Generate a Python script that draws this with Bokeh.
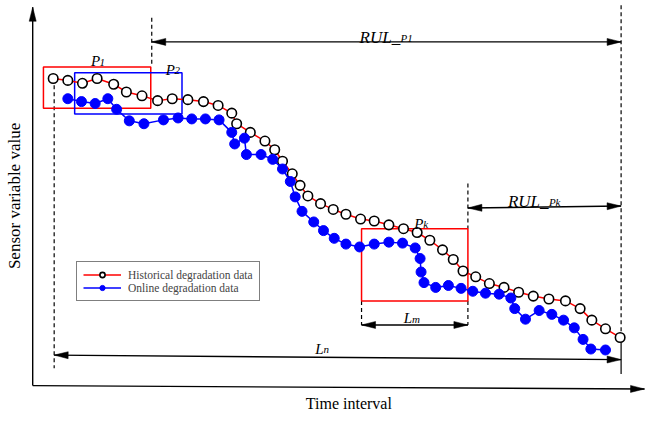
import math
from bokeh.plotting import figure
from bokeh.models import Range1d, Legend, LegendItem, ColumnDataSource
from bokeh.core.properties import value
from bokeh.embed import file_html
from bokeh.resources import INLINE

# ---- data (time index, sensor value) ----
hist_t = [54, 69, 84, 99, 116, 129, 145, 161, 176, 192, 208, 223, 237, 242, 256, 271, 281, 289,
          299, 307, 315, 328, 341, 354, 369, 383, 398, 413, 427, 440, 453, 464, 474, 487, 501,
          516, 531, 546, 562, 579, 594, 606, 620, 635]
hist_v = [349, 347, 344, 349, 343, 335, 331, 326, 328, 327, 325, 321, 313, 302, 293, 284, 275, 263,
          250, 238, 227, 219, 213, 208, 203, 201, 197, 193, 189, 181, 171, 161, 149, 143, 136,
          132, 127, 123, 120, 118, 110, 98, 89, 80]

online_t = [69, 83, 97, 110, 119, 132, 147, 167, 182, 196, 210, 224, 237, 240, 250, 252, 267, 279,
            289, 297, 302, 309, 321, 331, 342, 354, 368, 383, 398, 412, 425, 430, 431, 434, 446,
            459, 472, 484, 497, 511, 523, 527, 538, 552, 565, 577, 588, 597, 605, 620]
online_v = [328, 325, 323, 328, 317, 305, 302, 306, 308, 307, 307, 306, 293, 281, 287, 270, 270, 265,
            255, 242, 226, 211, 200, 191, 183, 177, 174, 177, 179, 178, 173, 162, 148, 137, 132,
            134, 131, 128, 126, 125, 121, 110, 99, 108, 104, 98, 90, 78, 68, 67]

# windows P1, P2, Pk : (t_start, t_end, v_low, v_high)
win_names = ["P1", "P2", "Pk"]
win_left = [44, 76, 370]
win_right = [154, 186, 479]
win_bottom = [318, 312, 118]
win_top = [361, 355, 193]
win_colors = ["#ff0000", "#0000ff", "#ff0000"]

# arrows: (x0, y0, x1, y1, heads)
arrows = [
    (33, 30, 33, 423, "end"),        # y axis
    (33, 30, 660, 26.5, "end"),      # x axis
    (155, 387, 636, 387, "both"),    # RUL_P1
    (479, 214.5, 636, 216.5, "both"),  # RUL_Pk
    (370, 93, 479, 93, "both"),      # Lm
    (55, 61.7, 636, 57, "both"),     # Ln
]

# dashed guides: (x, y0, y1)
dashed = [(55, 342, 48), (155, 412, 363), (636, 425, 86), (479, 240, 193),
          (479, 118, 93), (370, 118, 93)]
solid_guides = [(636, 75, 42)]

W, H = 645, 414
XR, YR = (0, 661), (0, 430)
p = figure(width=W, height=H, x_range=Range1d(*XR), y_range=Range1d(*YR),
           output_backend="svg", toolbar_location=None, min_border=0,
           x_axis_location=None, y_axis_location=None)
p.grid.visible = False
p.outline_line_color = None
p.background_fill_color = "white"
p.border_fill_color = "white"
SX = W / (XR[1] - XR[0])
SY = H / (YR[1] - YR[0])

# guides
p.segment(x0=[d[0] for d in dashed], y0=[d[1] for d in dashed],
          x1=[d[0] for d in dashed], y1=[d[2] for d in dashed],
          line_color="black", line_width=1.2, line_dash="4 3")
p.segment(x0=[d[0] for d in solid_guides], y0=[d[1] for d in solid_guides],
          x1=[d[0] for d in solid_guides], y1=[d[2] for d in solid_guides],
          line_color="black", line_width=1.2)

# arrows (heads computed in screen pixels, then mapped back)
HEAD_L, HEAD_W = 14, 3.5
ax0, ay0, ax1, ay1 = [], [], [], []
tri_x, tri_y = [], []
def head(tx, ty, fx, fy):
    dx, dy = (tx - fx) * SX, (ty - fy) * SY
    n = math.hypot(dx, dy)
    ux, uy = dx / n, dy / n
    bx, by = -ux * HEAD_L, -uy * HEAD_L
    px, py = -uy * HEAD_W, ux * HEAD_W
    tri_x.append([tx, tx + (bx + px) / SX, tx + (bx - px) / SX])
    tri_y.append([ty, ty + (by + py) / SY, ty + (by - py) / SY])
for (x0, y0, x1, y1, h) in arrows:
    ax0.append(x0); ay0.append(y0); ax1.append(x1); ay1.append(y1)
    head(x1, y1, x0, y0)
    if h == "both":
        head(x0, y0, x1, y1)
p.segment(x0=ax0, y0=ay0, x1=ax1, y1=ay1, line_color="black", line_width=1.4)
p.patches(xs=tri_x, ys=tri_y, fill_color="black", line_color="black", line_width=0.5)

# windows
p.quad(left=win_left, right=win_right, bottom=win_bottom, top=win_top,
       fill_color=None, line_color=win_colors, line_width=1.5)

# series
hl = p.line(hist_t, hist_v, line_color="#ff0000", line_width=1.5)
hs = p.scatter(hist_t, hist_v, size=9.5, marker="circle", fill_color="white",
               line_color="black", line_width=1.6)
ol = p.line(online_t, online_v, line_color="#0000ff", line_width=1.5)
os_ = p.scatter(online_t, online_v, size=10, marker="circle", fill_color="#0000ff",
                line_color="#0000ff", line_width=1)

FONT = value("Liberation Serif")

# main italic labels
main_src = ColumnDataSource(dict(
    x=[368, 520, 92.7, 169.3, 424, 413.3, 322.5],
    y=[391.7, 221.7, 367, 358.3, 198.3, 100, 68.5],
    t=["RUL_", "RUL_", "P", "P", "P", "L", "L"],
    s=["17px", "17px", "15px", "15px", "15px", "15px", "15px"],
))
p.text(x="x", y="y", text="t", source=main_src, text_font=FONT, text_font_style="italic",
       text_font_size="s", text_baseline="alphabetic", text_align="left", text_color="black")
sub_src = ColumnDataSource(dict(
    x=[410, 562, 101.5, 178.3, 433.3, 421.7, 331],
    y=[391, 221, 366, 357.5, 197.5, 99.5, 68],
    t=["P1", "Pk", "1", "2", "k", "m", "n"],
))
p.text(x="x", y="y", text="t", source=sub_src, text_font=FONT, text_font_style="italic",
       text_font_size="11px", text_baseline="alphabetic", text_align="left", text_color="black")

# axis titles
p.text(x=[14], y=[227], text=["Sensor variable value"], angle=math.pi / 2, text_font=FONT,
       text_font_size="17px", text_align="center", text_baseline="middle", text_color="black")
p.text(x=[357], y=[11], text=["Time interval"], text_font=FONT,
       text_font_size="16px", text_align="center", text_baseline="alphabetic", text_color="black")

legend = Legend(items=[LegendItem(label="Historical degradation data", renderers=[hl, hs]),
                       LegendItem(label="Online degradation data", renderers=[ol, os_])],
                location=(76, 113), label_text_font="Liberation Serif",
                label_text_font_size="11.5px", glyph_width=38, glyph_height=13,
                label_height=13, label_standoff=7, spacing=0, padding=6, margin=0,
                border_line_color="black", border_line_width=1,
                background_fill_color="white", background_fill_alpha=1)
p.add_layout(legend)

open("out.html", "w").write(file_html(p, INLINE))
